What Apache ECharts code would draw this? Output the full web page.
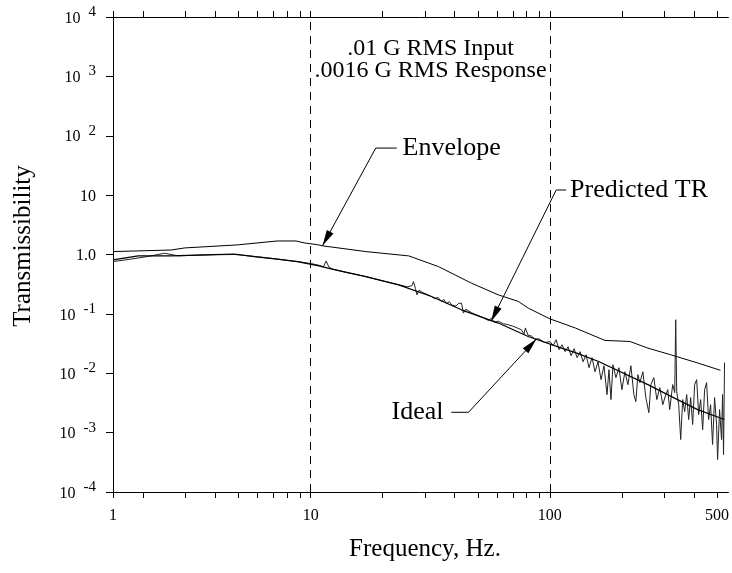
<!DOCTYPE html>
<html><head><meta charset="utf-8">
<script src="https://cdn.jsdelivr.net/npm/echarts@6/dist/echarts.min.js"></script>
<style>html,body{margin:0;padding:0;background:#fff}#c{width:732px;height:573px}</style>
</head><body><div id="c"></div>
<script>
// ---------- data (frequency Hz, transmissibility) ----------
const envelope = [[1.49,1.12],[2.61,1.19],[2.97,1.29],[4.93,1.45],[7.24,1.69],[8.68,1.69],[9.38,1.57],[10.8,1.45],[11.2,1.40],[17.0,1.12],[25.7,0.947],[34.2,0.626],[47.0,0.329],[60.9,0.209],[73.8,0.162],[81.2,0.125],[100,0.0826],[128,0.0577],[170,0.0357],[216,0.0343],[257,0.0265],[320,0.0205],[415,0.0149],[517,0.0112]];

const ideal = [[1.49,0.811],[1.90,0.947],[2.61,0.947],[3.59,0.985],[4.79,1.02],[5.80,0.922],[7.24,0.834],[8.79,0.760],[10.8,0.643],[12.3,0.566],[17.0,0.425],[23.3,0.308],[32.0,0.196],[42.7,0.117],[60.9,0.070],[81.2,0.0416],[112,0.0265],[127,0.0225],[159,0.0159],[257,0.00643],[321,0.00408],[415,0.00244],[537,0.00166]];

const predicted = [[1.49,0.76],[1.75,0.83],[2.1,0.93],[2.45,1.05],[2.78,0.95],[3.3,0.97],[4.0,0.99],[4.8,1.0],[5.8,0.93],[7.2,0.84],[8.8,0.76],[10.1,0.70],[10.8,0.66],[11.3,0.62],[11.6,0.78],[11.9,0.62],[12.3,0.57],[14,0.50],[17,0.425],[20,0.36],[23.3,0.31],[25.5,0.285],[26.5,0.30],[26.9,0.35],[27.4,0.27],[27.8,0.21],[28.4,0.25],[29.3,0.23],[30.5,0.215],[32,0.196],[33,0.18],[34,0.19],[35.3,0.16],[36,0.175],[37,0.15],[38,0.16],[39,0.14],[40.5,0.135],[41.5,0.15],[42.7,0.152],[43.5,0.103],[44.5,0.12],[47,0.105],[50,0.094],[53,0.085],[55.5,0.077],[57,0.085],[58.5,0.072],[61,0.075],[64,0.068],[66.7,0.066],[70,0.062],[73,0.058],[76,0.054],[78,0.046],[79,0.058],[81,0.044],[84,0.042],[86.4,0.0377],[90,0.038],[95,0.033],
[100.3,0.0340],[103.2,0.0291],[106.2,0.0367],[109.3,0.0249],[112.5,0.0302],[115.8,0.0231],[119.2,0.0280],[122.7,0.0197],[126.3,0.0259],[130.0,0.0183],[133.8,0.0231],[137.7,0.0156],[141.7,0.0205],[145.8,0.0124],[150.1,0.0183],[154.5,0.0106],[159.0,0.0156],[163.7,0.0078],[168.4,0.0134],[173.4,0.00437],[176.7,0.0115],[180.1,0.0036],[183.6,0.0139],[188.9,0.00843],[194.5,0.0124],[200.1,0.0053],[206.0,0.0106],[212.0,0.00643],[218.2,0.0134],[224.6,0.00437],[228.9,0.00333],[233.4,0.00947],[237.9,0.00695],[244.9,0.0106],[252.0,0.00389],[259.4,0.00217],[264.4,0.00643],[272.1,0.00843],[280.1,0.0036],[288.3,0.00573],[296.7,0.00296],[305.4,0.00437],[311.3,0.0053],[317.1,0.00244],[326.4,0.00643],[332.8,0.00472],[336.0,0.0796],[339.2,0.0049],[345.8,0.00296],[352.5,0.000765],[359.3,0.0036],[366.3,0.00226],[373.4,0.00437],[380.6,0.00166],[388.0,0.00389],[395.5,0.00137],[403.2,0.00643],[411.1,0.0078],[419.0,0.00201],[427.1,0.0036],[435.5,0.00112],[443.8,0.0053],[452.3,0.00695],[461.2,0.00166],[470.1,0.00296],[479.1,0.000631],[488.5,0.00389],[497.9,0.00137],[502.8,0.000352],[512.5,0.00244],[522.4,0.000765],[527.5,0.00437],[532.6,0.000428],[537.6,0.0151]];

// ---------- axes ----------
const xMin = 1.49, xMax = 558;
const xLabelValues = [1.49, 10, 100, 500];
const xLabelTexts = ['1', '10', '100', '500'];
const xTickValues = [1.49,2,3,4,5,6,7,8,9,10,20,30,40,50,60,70,80,90,100,200,300,400,500];
const yTickValues = [1e-4,1e-3,1e-2,1e-1,1,10,100,1000,10000];
const yLabelBase = ['10','10','10','10','1.0','10','10','10','10'];
const yLabelExp  = ['-4','-3','-2','-1','','','2','3','4'];
const verticalMarks = [10, 100];
const xTitle = 'Frequency, Hz.';
const yTitle = 'Transmissibility';

// ---------- annotations (data coordinates) ----------
const rmsText = ['.01 G RMS Input', '.0016 G RMS Response'];
const rmsAnchor = [31.7, 1941];
const notes = [
  {text:'Envelope', tip:[11.2,1.40], elbow:[18.7,62], stub:[22.9,62], label:[24.2,62], align:'left'},
  {text:'Predicted TR', tip:[56.8,0.0745], elbow:[106.3,12.2], stub:[117,12.2], label:[121.5,12.2], align:'left'},
  {text:'Ideal', tip:[87.9,0.0377], elbow:[45.7,0.0022], stub:[38.7,0.0022], label:[35.9,0.0022], align:'right'}
];

const FONT = '"Liberation Serif", "Times New Roman", Times, serif';
const chart = echarts.init(document.getElementById('c'), null, {renderer:'canvas'});

function xFmt(v){
  let i = xLabelValues.findIndex(t => Math.abs(Math.log10(t) - Math.log10(v)) < 0.01);
  return i >= 0 ? xLabelTexts[i] : '';
}
function yFmt(v){
  const i = yTickValues.findIndex(t => Math.abs(Math.log10(t) - Math.log10(v)) < 0.01);
  if (i < 0) return '';
  return yLabelExp[i] ? '{b|' + yLabelBase[i] + '}{g|}{s|' + yLabelExp[i] + '}' : '{b|' + yLabelBase[i] + '}';
}

const xAxisCommon = {
  type:'log', logBase:10, min:xMin, max:xMax,
  axisLine:{show:true, onZero:false, lineStyle:{color:'#000', width:1}},
  axisTick:{show:true, length:6, lineStyle:{color:'#000', width:1}, customValues:xTickValues},
  splitLine:{show:false}, minorTick:{show:false}, minorSplitLine:{show:false}
};

const option = {
  animation:false,
  backgroundColor:'#fff',
  grid:{left:113, right:1, top:17, bottom:81, containLabel:false},
  xAxis:[
    Object.assign({}, xAxisCommon, {
      position:'bottom',
      axisLabel:{show:true, customValues:xLabelValues, formatter:xFmt, margin:16, color:'#000', fontFamily:FONT, fontSize:16}
    }),
    Object.assign({}, xAxisCommon, {position:'top', axisLabel:{show:false}})
  ],
  yAxis:{
    type:'log', logBase:10, min:1e-4, max:1e4,
    axisLine:{show:true, onZero:false, lineStyle:{color:'#000', width:1}},
    axisTick:{show:true, length:7, lineStyle:{color:'#000', width:1}, customValues:yTickValues},
    axisLabel:{show:true, customValues:yTickValues, formatter:yFmt, margin:17, color:'#000',
      rich:{
        b:{fontFamily:FONT, fontSize:16, color:'#000', padding:[3,0,0,0]},
        g:{width:8},
        s:{fontFamily:FONT, fontSize:15, color:'#000', padding:[0,0,10,0]}
      }},
    splitLine:{show:false}, minorTick:{show:false}
  },
  series:[
    {name:'Envelope', type:'line', data:envelope, showSymbol:false, symbol:'none', xAxisIndex:0,
      lineStyle:{color:'#000', width:1}, z:3,
      markLine:{symbol:'none', silent:true, label:{show:false},
        lineStyle:{color:'#000', width:1, type:[8,6]},
        data: verticalMarks.map(v => ({xAxis:v}))}},
    {name:'Ideal', type:'line', data:ideal, showSymbol:false, symbol:'none', xAxisIndex:0,
      lineStyle:{color:'#000', width:1.2}, z:3},
    {name:'Predicted TR', type:'line', data:predicted, showSymbol:false, symbol:'none', xAxisIndex:0,
      lineStyle:{color:'#222', width:1}, z:2}
  ]
};
chart.setOption(option);

// ---------- titles and annotations ----------
function px(p){ return chart.convertToPixel({xAxisIndex:0, yAxisIndex:0}, p); }
const g = [];
g.push({type:'text', x:23, y:246, rotation:Math.PI/2, style:{text:yTitle, fontFamily:FONT, fontSize:25, fill:'#000', align:'center', verticalAlign:'middle'}});
g.push({type:'text', x:425, y:549, style:{text:xTitle, fontFamily:FONT, fontSize:25, fill:'#000', align:'center', verticalAlign:'middle'}});
const rc = px(rmsAnchor);
g.push({type:'text', x:rc[0], y:rc[1], style:{text:rmsText.join('\n'), fontFamily:FONT, fontSize:24, lineHeight:22, fill:'#000', align:'center', verticalAlign:'middle'}});
notes.forEach(n => {
  const t = px(n.tip), e = px(n.elbow), s = px(n.stub), l = px(n.label);
  g.push({type:'polyline', shape:{points:[s, e, t]}, style:{stroke:'#000', lineWidth:1, fill:null}});
  const dx = t[0]-e[0], dy = t[1]-e[1], len = Math.hypot(dx,dy), ux = dx/len, uy = dy/len;
  const L = 16, W = 3.8;
  const bx = t[0]-ux*L, by = t[1]-uy*L;
  g.push({type:'polygon', shape:{points:[t, [bx - uy*W, by + ux*W], [bx + uy*W, by - ux*W]]}, style:{fill:'#000'}});
  g.push({type:'text', x:l[0], y:l[1], style:{text:n.text, fontFamily:FONT, fontSize:26, fill:'#000', align:n.align, verticalAlign:'middle'}});
});
chart.setOption({graphic:g});
</script></body></html>
